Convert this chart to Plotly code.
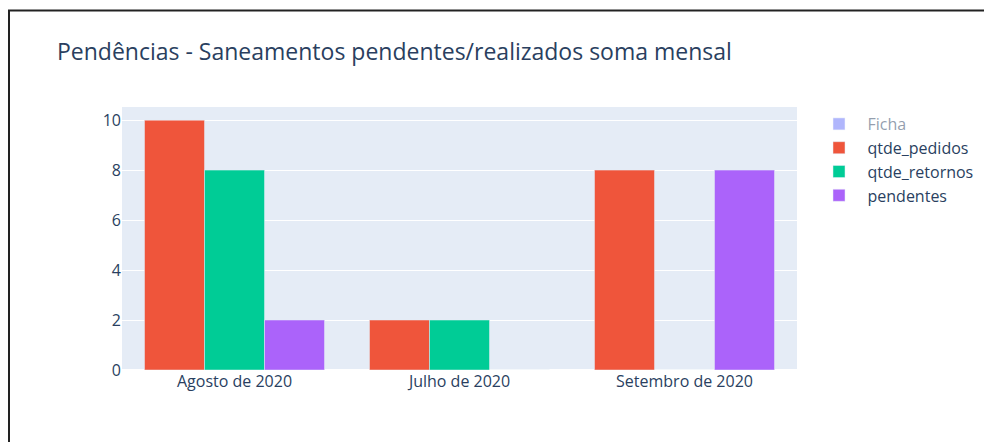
import plotly.graph_objects as go

categories = ["Agosto de 2020", "Julho de 2020", "Setembro de 2020"]
ficha = [1, 1, 1]
qtde_pedidos = [10, 2, 8]
qtde_retornos = [8, 2, 0]
pendentes = [2, 0, 8]

W, H = 984, 434
L, R, T, B = 114, 195, 99, 72
pw, ph = W - L - R, H - T - B

fig = go.Figure()
fig.add_trace(go.Bar(name="Ficha", x=categories, y=ficha, visible="legendonly"))
fig.add_trace(go.Bar(name="qtde_pedidos", x=categories, y=qtde_pedidos))
fig.add_trace(go.Bar(name="qtde_retornos", x=categories, y=qtde_retornos))
fig.add_trace(go.Bar(name="pendentes", x=categories, y=pendentes))

bx0 = (1.0 - L) / pw
by1 = (H - B - 2.5) / ph
fig.add_shape(type="rect", xref="paper", yref="paper", x0=bx0, x1=1.5, y0=-1.0, y1=by1,
              line=dict(color="#222222", width=2), fillcolor="rgba(0,0,0,0)", layer="above")

fig.update_layout(
    template="plotly",
    width=W, height=H,
    margin=dict(l=L, r=R, t=T, b=B),
    barmode="group",
    font=dict(family="Open Sans, verdana, arial, sans-serif", size=16),
    title=dict(text="Pendências - Saneamentos pendentes/realizados soma mensal",
               x=49 / W, xanchor="left", y=1 - 44 / H, yanchor="middle",
               font=dict(size=23)),
    legend=dict(font=dict(size=16), itemwidth=47),
    yaxis=dict(tickvals=[0, 2, 4, 6, 8, 10]),
)

fig.write_html("out.html")
